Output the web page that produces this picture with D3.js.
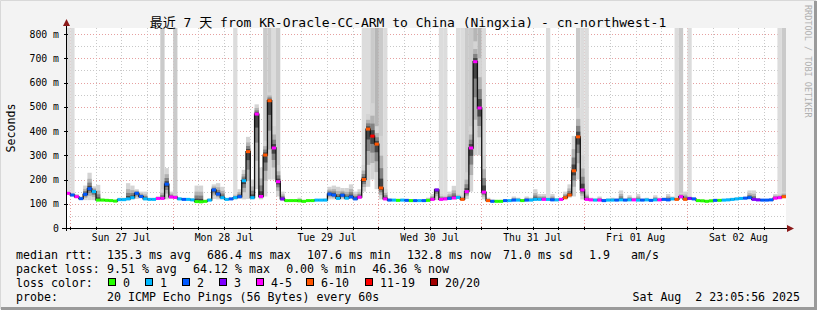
<!DOCTYPE html>
<html><head><meta charset="utf-8">
<script src="https://cdn.jsdelivr.net/npm/d3@7"></script>
<style>
body{margin:0;background:#f3f3f3}
svg{display:block}
text{font-family:"DejaVu Sans Mono","Noto Sans CJK SC",monospace;fill:#000}
</style>
</head><body><svg id="c" width="817" height="310"></svg>
<script>
// ---------------- data ----------------
const title = "最近 7 天 from KR-Oracle-CC-ARM to China (Ningxia) - cn-northwest-1";
const yAxisTitle = "Seconds";
const credit = "RRDTOOL / TOBI OETIKER";
const endTime = new Date(2025, 7, 2, 23, 5, 56);
const spanHours = 168;
const yTickValues = [0, 100, 200, 300, 400, 500, 600, 700, 800];
const yTickLabels = ["0", "100 m", "200 m", "300 m", "400 m", "500 m", "600 m", "700 m", "800 m"];

// hourly median rtt (ms)
const median = [
143,136,129,121,139,162,150,115,115,114, 113,111,117,117,120,125,143,130,120,118,
118,122,122,181,128,126,120,118,118,116, 109,108,110,115,157,140,125,118,120,125,
129,195,315,125,470,130,301,525,330,191, 120,113,113,113,112,110,113,113,115,115,
115,140,136,122,135,123,128,120,127,200, 408,379,346,165,120,115,115,114,115,114,
113,113,113,113,114,118,157,118,120,122, 124,126,118,150,330,686,495,148,113,110,
110,110,113,113,115,115,113,115,115,118, 118,118,118,116,116,118,125,136,236,376,
157,118,116,115,115,113,115,115,115,116, 115,116,116,115,115,116,114,116,116,118,
116,120,118,129,118,122,120,113,112,110, 112,114,114,115,116,118,120,122,123,125,
118,116,115,115,116,123,125,129];
// loss class index per hour (0:0, 1:1, 2:2, 3:3, 4:4-5, 5:6-10, 6:11-19, 7:20/20)
const loss = [
4,2,4,2,2,2,1,0,0,0, 0,0,1,1,1,1,2,2,1,1,
1,4,4,2,4,4,1,2,1,1, 0,0,0,1,2,2,1,1,2,1,
2,1,5,1,4,4,5,5,4,4, 3,0,0,0,0,0,0,0,1,1,
1,2,2,1,2,1,2,2,4,5, 5,6,5,5,4,2,1,0,1,2,
0,2,1,2,0,4,3,4,4,2, 4,1,5,4,4,4,4,4,5,2,
0,0,2,1,2,1,0,2,1,1, 1,4,1,2,1,4,5,5,5,5,
4,4,4,1,4,2,1,1,2,1, 2,1,4,1,2,1,2,1,4,2,
2,1,5,4,5,3,2,0,0,0, 0,2,0,1,1,1,1,1,2,2,
3,3,2,2,2,4,4,5];
// smoke extent per hour (ms)
const smokeLo = [
136,130,124,116,115,115,115,111,111,110, 109,107,113,113,115,118,120,122,115,114,
114,117,117,118,120,120,115,114,114,112, 106,105,106,111,120,118,118,114,115,118,
120,118,120,118,160,118,130,200,200,130, 111,109,109,109,108,106,109,109,111,111,
111,118,118,117,118,118,120,115,120,150, 170,200,160,118,115,111,111,110,111,110,
109,109,109,109,110,113,115,113,115,117, 118,120,113,120,150,300,300,118,109,106,
106,106,109,109,111,111,109,111,111,113, 113,113,113,111,111,113,118,125,130,200,
118,113,111,111,111,109,111,111,111,111, 111,111,111,111,111,111,110,111,111,113,
111,115,113,120,113,117,115,109,108,106, 108,110,110,111,111,113,115,117,118,120,
113,111,111,111,111,118,120,123];
const smokeHi = [
150,145,140,130,175,228,172,178,122,120, 118,116,125,125,185,175,160,150,150,124,
124,130,160,247,150,140,126,124,124,122, 175,175,116,122,180,185,170,124,126,140,
160,240,376,200,510,250,360,560,420,260, 150,118,118,118,125,116,118,118,120,120,
122,170,175,170,165,165,180,150,160,260, 470,515,420,380,160,122,120,120,120,120,
118,118,118,118,125,140,165,140,135,150, 174,140,135,230,420,770,700,300,125,118,
116,116,118,118,130,125,118,130,125,160, 140,140,125,140,122,125,150,180,380,495,
300,150,125,122,130,120,122,125,122,155, 122,135,125,140,122,125,120,135,125,125,
140,130,125,145,150,130,126,118,118,116, 118,120,118,120,122,124,126,128,130,155,
155,124,120,120,122,140,140,150];
// pings beyond the top of the graph (0 none, 1 few, 2 more, 3 many)
const overflow = [
1,1,0,0,0,0,0,0,0,0, 0,0,0,0,0,0,0,0,0,0,
0,0,2,0,0,2,0,0,0,0, 0,0,0,0,0,0,0,0,0,1,
0,0,0,0,0,0,2,2,1,2, 0,0,0,0,0,0,0,0,0,0,
0,0,0,0,0,0,0,0,0,1, 1,2,3,2,1,0,0,0,0,0,
0,0,0,0,0,0,0,1,1,0, 0,1,1,2,2,3,3,1,0,0,
0,0,0,0,0,0,0,0,0,0, 0,0,1,0,0,0,0,0,0,2,
1,1,0,0,0,0,0,0,0,0, 0,0,0,0,0,0,0,0,0,0,
0,0,1,2,0,1,0,0,0,0, 0,0,0,0,0,0,0,0,0,0,
0,0,0,0,0,0,1,2];

const lossLabels = ["0", "1", "2", "3", "4-5", "6-10", "11-19", "20/20"];
const lossColors = ["#26ff00", "#00b8ff", "#0059ff", "#7e00ff", "#ff00ff", "#ff5500", "#ff0000", "#a10000"];
const rttLabel = "median rtt:";
const rttItems = ["135.3 ms avg", "686.4 ms max", "107.6 ms min", "132.8 ms now", "71.0 ms sd", "1.9   am/s"];
const lossLabel = "packet loss:";
const lossItems = ["9.51 % avg", "64.12 % max", "0.00 % min", "46.36 % now"];
const colorLabel = "loss color:";
const probeLabel = "probe:";
const probeText = "20 ICMP Echo Pings (56 Bytes) every 60s";
const stampText = "Sat Aug  2 23:05:56 2025";

// ---------------- layout ----------------
const W = 817, H = 310;
const L = 66, R = 786, T = 28, B = 228;
const svg = d3.select("#c");
const startTime = d3.timeHour.offset(endTime, -spanHours);
const nb = s => s.replace(/ /g, "\u00a0");

const x = d3.scaleTime().domain([startTime, endTime]).range([L, R]);
const y = d3.scaleLinear().domain([0, 825]).range([B, T]);

// frame
svg.append("rect").attr("x", 0).attr("y", 0).attr("width", W).attr("height", H).attr("fill", "#f3f3f3");
svg.append("path").attr("d", `M0.5,${H-1}V0.5H${W-1}`).attr("stroke", "#d8d8d8").attr("fill", "none");
svg.append("path").attr("d", `M1,${H-1.5}H${W-1.5}V1`).attr("stroke", "#9a9a9a").attr("stroke-width", 3).attr("fill", "none");
svg.append("rect").attr("x", L).attr("y", T).attr("width", R - L).attr("height", B - T).attr("fill", "#ffffff");

const bins = median.map((m, i) => ({
  t0: d3.timeHour.offset(startTime, i),
  t1: d3.timeHour.offset(startTime, i + 1),
  m, loss: loss[i], lo: smokeLo[i], hi: smokeHi[i], over: overflow[i]
}));

// grid
const g = svg.append("g");
const minorY = d3.range(50, 825, 100);
g.selectAll(".gy").data(minorY).join("line")
  .attr("x1", L).attr("x2", R).attr("y1", d => Math.round(y(d)) + 0.5).attr("y2", d => Math.round(y(d)) + 0.5)
  .attr("stroke", "#c8c8c8").attr("stroke-dasharray", "1,2");
const sixH = d3.timeHour.every(6).range(startTime, endTime).filter(d => d.getHours() !== 0);
g.selectAll(".gx").data(sixH).join("line")
  .attr("x1", d => Math.round(x(d)) + 0.5).attr("x2", d => Math.round(x(d)) + 0.5).attr("y1", T).attr("y2", B)
  .attr("stroke", "#c8c8c8").attr("stroke-dasharray", "1,2");
g.selectAll(".my").data(yTickValues.slice(1)).join("line")
  .attr("x1", L).attr("x2", R).attr("y1", d => Math.round(y(d)) + 0.5).attr("y2", d => Math.round(y(d)) + 0.5)
  .attr("stroke", "#e6a0a0").attr("stroke-dasharray", "1,2");
const days = d3.timeDay.range(startTime, endTime);
g.selectAll(".mx").data(days).join("line")
  .attr("x1", d => Math.round(x(d)) + 0.5).attr("x2", d => Math.round(x(d)) + 0.5).attr("y1", T).attr("y2", B)
  .attr("stroke", "#e6a0a0").attr("stroke-dasharray", "1,2");

// overflow (pings above the top)
const overColors = ["none", "#dcdcdc", "#cacaca", "#b6b6b6"];
svg.append("g").selectAll("rect").data(bins.filter(d => d.over > 0)).join("rect")
  .attr("x", d => x(d.t0)).attr("width", d => x(d.t1) - x(d.t0))
  .attr("y", T).attr("height", d => y(d.m) - T)
  .attr("fill", d => overColors[d.over]);

// smoke
const layers = [[1, "#d4d4d4"], [0.62, "#b2b2b2"], [0.38, "#828282"], [0.18, "#444444"]];
const sg = svg.append("g");
layers.forEach(([f, c]) => {
  sg.append("g").selectAll("rect").data(bins).join("rect")
    .attr("x", d => x(d.t0)).attr("width", d => x(d.t1) - x(d.t0))
    .attr("y", d => y(d.m + (d.hi - d.m) * f))
    .attr("height", d => Math.max(0, y(d.m - (d.m - d.lo) * f) - y(d.m + (d.hi - d.m) * f)))
    .attr("fill", c);
});

// median line (step) in dark
const pts = [];
bins.forEach(d => { pts.push([x(d.t0), y(d.m)]); pts.push([x(d.t1), y(d.m)]); });
svg.append("path").attr("d", d3.line()(pts)).attr("fill", "none").attr("stroke", "#111").attr("stroke-width", 1.3);

// loss coloured median
svg.append("g").selectAll("line").data(bins).join("line")
  .attr("x1", d => x(d.t0)).attr("x2", d => x(d.t1))
  .attr("y1", d => y(d.m)).attr("y2", d => y(d.m))
  .attr("stroke", d => lossColors[d.loss]).attr("stroke-width", 3);

// axes
svg.append("line").attr("x1", L - 4).attr("x2", R + 2).attr("y1", B + 0.5).attr("y2", B + 0.5).attr("stroke", "#000");
svg.append("line").attr("x1", L + 0.5).attr("x2", L + 0.5).attr("y1", B + 3).attr("y2", T - 4).attr("stroke", "#000");
svg.append("path").attr("d", `M${R+1},${B-3}L${R+8},${B+0.5}L${R+1},${B+4}Z`).attr("fill", "#8b1a1a");
svg.append("path").attr("d", `M${L-3},${T-2}L${L+0.5},${T-9}L${L+4},${T-2}Z`).attr("fill", "#8b1a1a");

// y tick marks and labels
svg.append("g").selectAll("line").data(yTickValues).join("line")
  .attr("x1", L - 2).attr("x2", L + 2).attr("y1", d => Math.round(y(d)) + 0.5).attr("y2", d => Math.round(y(d)) + 0.5)
  .attr("stroke", "#000");
svg.append("g").selectAll("text").data(yTickValues).join("text")
  .attr("x", 59).attr("y", d => y(d) + 3.5).attr("text-anchor", "end")
  .style("font-size", "9.8px")
  .text((d, i) => nb(yTickLabels[i]));

// x labels (noon of each day)
const noons = days.map(d => d3.timeHour.offset(d, 12)).filter(d => d < endTime);
const fmt = d3.timeFormat("%a %d %b");
svg.append("g").selectAll("text").data(noons).join("text")
  .attr("x", d => x(d)).attr("y", 241).attr("text-anchor", "middle")
  .style("font-size", "9.8px").text(d => nb(fmt(d)));
svg.append("g").selectAll("line").data(days.concat(sixH)).join("line")
  .attr("x1", d => Math.round(x(d)) + 0.5).attr("x2", d => Math.round(x(d)) + 0.5)
  .attr("y1", B - 1).attr("y2", B + 2).attr("stroke", "#000");

// title
svg.append("text").attr("x", 408).attr("y", 26.5).attr("text-anchor", "middle")
  .style("font-size", "13px").text(nb(title));
// y axis title
svg.append("text").attr("transform", "translate(15,128) rotate(-90)").attr("text-anchor", "middle")
  .style("font-size", "11.6px").text(yAxisTitle);
// credit
svg.append("text").attr("transform", "translate(804.5,5) rotate(90)")
  .style("font-size", "8.5px").style("fill", "#b0b0b0")
  .text(nb(credit));

// legend
const CW = 6.97, GAP = 16.4;
const lg = svg.append("g").style("font-size", "11.6px");
const row1 = 259, row2 = 273, row3 = 287, row4 = 301;
function rowItems(items, startX, yy, fixed) {
  let cx = startX;
  items.forEach((t, i) => {
    const px = fixed && fixed[i] != null ? fixed[i] : cx;
    lg.append("text").attr("x", px).attr("y", yy).text(nb(t));
    cx = px + t.length * CW + GAP;
  });
}
lg.append("text").attr("x", 16).attr("y", row1).text(nb(rttLabel));
rowItems(rttItems, 107, row1, [null, null, null, null, 503, null]);
lg.append("text").attr("x", 16).attr("y", row2).text(nb(lossLabel));
rowItems(lossItems, 107, row2);
lg.append("text").attr("x", 16).attr("y", row3).text(nb(colorLabel));
const swX = [108, 145, 182, 219, 256, 306, 365, 430];
lossLabels.forEach((t, i) => {
  lg.append("rect").attr("x", swX[i] + 0.5).attr("y", 278.5).attr("width", 7).attr("height", 7)
    .attr("fill", lossColors[i]).attr("stroke", "#000");
  lg.append("text").attr("x", swX[i] + 15).attr("y", row3).text(t);
});
lg.append("text").attr("x", 16).attr("y", row4).text(nb(probeLabel));
lg.append("text").attr("x", 107).attr("y", row4).text(nb(probeText));
lg.append("text").attr("x", 800).attr("y", row4).attr("text-anchor", "end").text(nb(stampText));
</script>
</body></html>
